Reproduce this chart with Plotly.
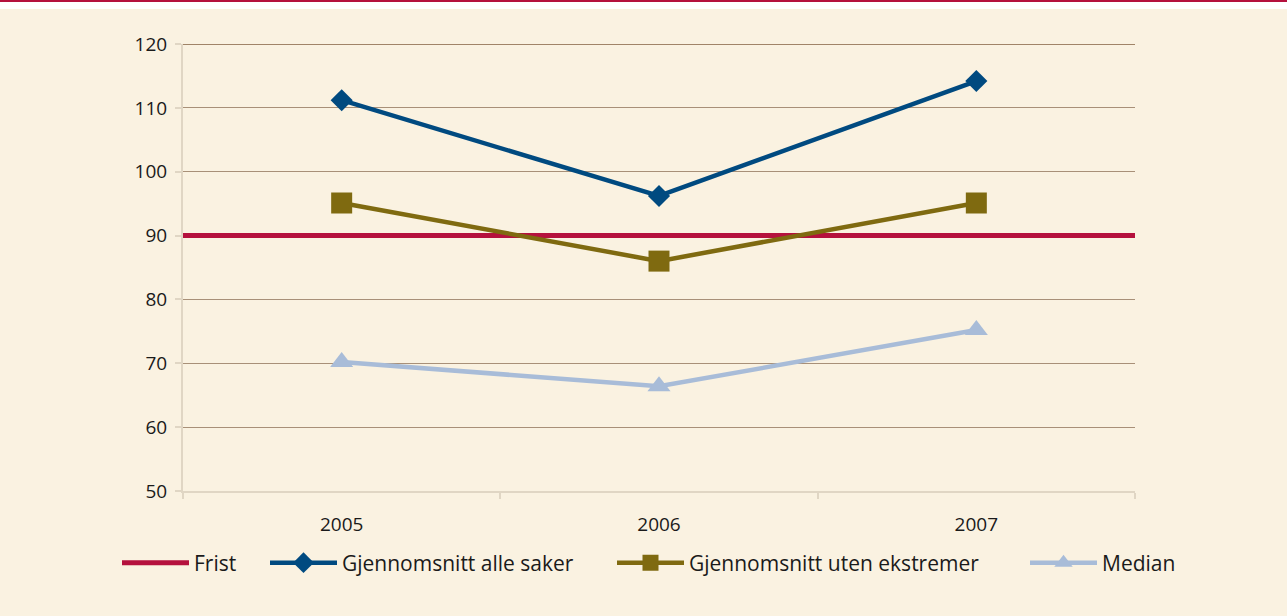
import plotly.graph_objects as go

years = ["2005", "2006", "2007"]
frist = 90
snitt_alle = [111.2, 96.2, 114.2]
snitt_uten = [95.1, 86.0, 95.1]
median = [70.2, 66.4, 75.2]
y_ticks = [50, 60, 70, 80, 90, 100, 110, 120]

xpos = list(range(len(years)))
edges = [-0.5, len(years) - 0.5]
bounds = [i - 0.5 for i in range(len(years) + 1)]

font_family = "Open Sans, Noto Sans, sans-serif"
W, H = 1287, 616
PH = 447  # plot height in px

fig = go.Figure()
fig.add_trace(go.Scatter(
    x=edges, y=[frist, frist], mode="lines", name="Frist", legend="legend",
    line=dict(color="#B5113D", width=5)))
fig.add_trace(go.Scatter(
    x=xpos, y=snitt_alle, mode="lines+markers", name="Gjennomsnitt alle saker",
    legend="legend2",
    line=dict(color="#004A80", width=4.5),
    marker=dict(symbol="diamond", size=17, color="#004A80")))
fig.add_trace(go.Scatter(
    x=xpos, y=snitt_uten, mode="lines+markers", name="Gjennomsnitt uten ekstremer",
    legend="legend3",
    line=dict(color="#7F6A10", width=4.5),
    marker=dict(symbol="square", size=21, color="#7F6A10")))
fig.add_trace(go.Scatter(
    x=xpos, y=median, mode="lines+markers", name="Median", legend="legend4",
    line=dict(color="#A8BCD8", width=4.5),
    marker=dict(symbol="triangle-up", size=20, color="#A8BCD8")))

def leg(px):
    return dict(orientation="h", xref="container", yref="container",
                x=(px - 5) / W, xanchor="left", y=1 - 563 / H, yanchor="middle",
                font=dict(size=21), bgcolor="rgba(0,0,0,0)", itemwidth=67)

fig.update_layout(
    width=W, height=H,
    paper_bgcolor="#FAF2E1", plot_bgcolor="#FAF2E1",
    margin=dict(l=183, r=152, t=44, b=125, autoexpand=False),
    font=dict(family=font_family, size=19, color="#1A1A1A"),
    showlegend=True,
    legend=leg(122), legend2=leg(270), legend3=leg(617), legend4=leg(1030),
    shapes=[
        dict(type="rect", xref="paper", yref="paper", x0=-1, x1=2,
             y0=1 + 35 / PH, y1=1 + 44 / PH, fillcolor="#FFFFFF",
             line=dict(width=0), layer="above"),
        dict(type="line", xref="paper", yref="paper", x0=-1, x1=2,
             y0=1 + 43.5 / PH, y1=1 + 43.5 / PH, line=dict(color="#B5113D", width=3),
             layer="above"),
        dict(type="line", xref="paper", yref="y", x0=0, x1=1,
             y0=y_ticks[-1], y1=y_ticks[-1], line=dict(color="#A08468", width=2)),
    ],
)
fig.update_xaxes(
    range=edges, tickmode="array", tickvals=xpos, ticktext=years,
    showgrid=False, zeroline=False, showline=True, linecolor="#E0D6C4", linewidth=2,
    ticks="", ticklabelstandoff=15, automargin=False,
    minor=dict(tickmode="array", tickvals=bounds, ticks="outside", ticklen=6,
               tickcolor="#E0D6C4", tickwidth=2, showgrid=False),
    fixedrange=True,
)
fig.update_yaxes(
    range=[50, 120], tickmode="array", tickvals=y_ticks,
    showgrid=True, gridcolor="#A89078", gridwidth=1, zeroline=False,
    showline=True, linecolor="#E0D6C4", linewidth=2,
    ticks="outside", ticklen=6, tickcolor="#E0D6C4", tickwidth=2,
    ticklabelstandoff=4, automargin=False,
    fixedrange=True,
)

fig.write_html("out.html", config={"displayModeBar": False},
               post_script="document.body.style.margin='0';")
